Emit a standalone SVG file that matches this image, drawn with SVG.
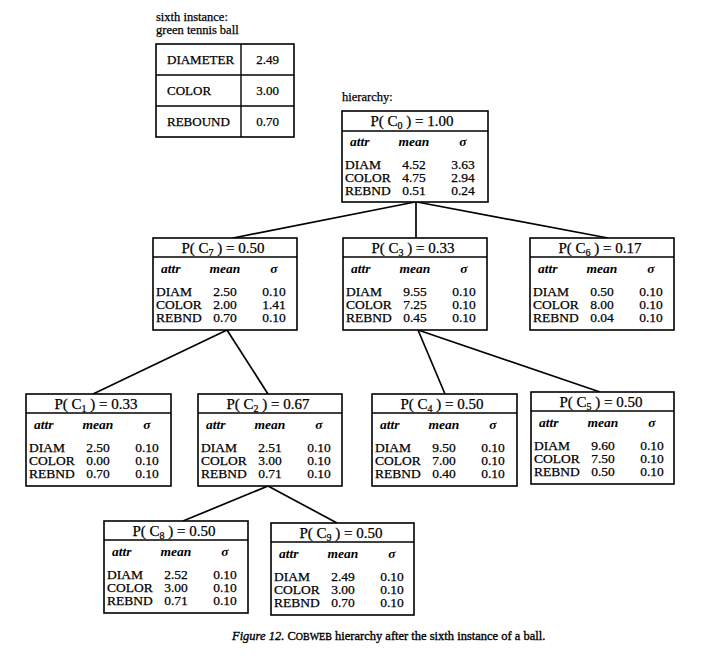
<svg xmlns="http://www.w3.org/2000/svg" width="702" height="656" viewBox="0 0 702 656">
<style>
  text { font-family: "Liberation Serif", "Times New Roman", serif; fill: #000; stroke: #000; stroke-width: 0.25; }
  .box { fill: #fff; stroke: #000; stroke-width: 1.6; }
  .sep { stroke: #000; stroke-width: 1.4; }
  .hd { font-size: 15px; text-anchor: middle; }
  .sub { font-size: 10px; }
  .ital { font-size: 13.5px; font-style: italic; font-weight: bold; stroke-width: 0; }
  .v { font-size: 13.5px; }
  .c { text-anchor: middle; }
  .lbl { font-size: 12.5px; }
  .tbl { font-size: 13px; }
  .conn line { stroke: #000; stroke-width: 1.7; }
  .cap { font-size: 12.5px; stroke-width: 0.35; }
</style>

<g id="instance">
  <text class="lbl" x="156" y="21">sixth instance:</text>
  <text class="lbl" x="156" y="34">green tennis ball</text>
  <rect class="box" x="156" y="44" width="138" height="93"/>
  <line class="sep" x1="156" y1="75" x2="294" y2="75"/>
  <line class="sep" x1="156" y1="106" x2="294" y2="106"/>
  <line class="sep" x1="241" y1="44" x2="241" y2="137"/>
  <text class="tbl" x="167" y="64">DIAMETER</text>
  <text class="tbl" x="167" y="95">COLOR</text>
  <text class="tbl" x="167" y="126">REBOUND</text>
  <text class="tbl c" x="267.5" y="64">2.49</text>
  <text class="tbl c" x="267.5" y="95">3.00</text>
  <text class="tbl c" x="267.5" y="126">0.70</text>
</g>

<text id="hierarchy-label" class="lbl" x="342" y="101">hierarchy:</text>

<g class="conn" id="connectors">
  <line x1="415" y1="202" x2="233" y2="238"/>
  <line x1="416" y1="202" x2="416" y2="238"/>
  <line x1="417" y1="202" x2="608" y2="238"/>
  <line x1="227" y1="330" x2="93" y2="394"/>
  <line x1="227" y1="330" x2="268" y2="394"/>
  <line x1="418" y1="330" x2="445" y2="394"/>
  <line x1="418" y1="330" x2="600" y2="392"/>
  <line x1="268" y1="486" x2="183" y2="521"/>
  <line x1="268" y1="486" x2="337" y2="523"/>
</g>

<g id="C0" transform="translate(342,111)">
  <rect class="box" x="0" y="0" width="146" height="91"/>
  <line class="sep" x1="0" y1="20" x2="146" y2="20"/>
  <text class="hd" x="70" y="15">P( C<tspan class="sub" dy="3">0</tspan><tspan dy="-3"> ) = 1.00</tspan></text>
  <text class="ital" x="8" y="35">attr</text><text class="ital c" x="72" y="35">mean</text><text class="ital c" x="121" y="35">σ</text>
  <text class="v" x="3" y="58">DIAM</text><text class="v c" x="72" y="58">4.52</text><text class="v c" x="121" y="58">3.63</text>
  <text class="v" x="3" y="71">COLOR</text><text class="v c" x="72" y="71">4.75</text><text class="v c" x="121" y="71">2.94</text>
  <text class="v" x="3" y="84">REBND</text><text class="v c" x="72" y="84">0.51</text><text class="v c" x="121" y="84">0.24</text>
</g>

<g id="C7" transform="translate(153,238)">
  <rect class="box" x="0" y="0" width="144" height="92"/>
  <line class="sep" x1="0" y1="19" x2="144" y2="19"/>
  <text class="hd" x="70" y="15">P( C<tspan class="sub" dy="3">7</tspan><tspan dy="-3"> ) = 0.50</tspan></text>
  <text class="ital" x="8" y="35">attr</text><text class="ital c" x="72" y="35">mean</text><text class="ital c" x="121" y="35">σ</text>
  <text class="v" x="3" y="58">DIAM</text><text class="v c" x="72" y="58">2.50</text><text class="v c" x="121" y="58">0.10</text>
  <text class="v" x="3" y="71">COLOR</text><text class="v c" x="72" y="71">2.00</text><text class="v c" x="121" y="71">1.41</text>
  <text class="v" x="3" y="84">REBND</text><text class="v c" x="72" y="84">0.70</text><text class="v c" x="121" y="84">0.10</text>
</g>

<g id="C3" transform="translate(343,238)">
  <rect class="box" x="0" y="0" width="144" height="92"/>
  <line class="sep" x1="0" y1="19" x2="144" y2="19"/>
  <text class="hd" x="70" y="15">P( C<tspan class="sub" dy="3">3</tspan><tspan dy="-3"> ) = 0.33</tspan></text>
  <text class="ital" x="8" y="35">attr</text><text class="ital c" x="72" y="35">mean</text><text class="ital c" x="121" y="35">σ</text>
  <text class="v" x="3" y="58">DIAM</text><text class="v c" x="72" y="58">9.55</text><text class="v c" x="121" y="58">0.10</text>
  <text class="v" x="3" y="71">COLOR</text><text class="v c" x="72" y="71">7.25</text><text class="v c" x="121" y="71">0.10</text>
  <text class="v" x="3" y="84">REBND</text><text class="v c" x="72" y="84">0.45</text><text class="v c" x="121" y="84">0.10</text>
</g>

<g id="C6" transform="translate(530,238)">
  <rect class="box" x="0" y="0" width="144" height="92"/>
  <line class="sep" x1="0" y1="19" x2="144" y2="19"/>
  <text class="hd" x="70" y="15">P( C<tspan class="sub" dy="3">6</tspan><tspan dy="-3"> ) = 0.17</tspan></text>
  <text class="ital" x="8" y="35">attr</text><text class="ital c" x="72" y="35">mean</text><text class="ital c" x="121" y="35">σ</text>
  <text class="v" x="3" y="58">DIAM</text><text class="v c" x="72" y="58">0.50</text><text class="v c" x="121" y="58">0.10</text>
  <text class="v" x="3" y="71">COLOR</text><text class="v c" x="72" y="71">8.00</text><text class="v c" x="121" y="71">0.10</text>
  <text class="v" x="3" y="84">REBND</text><text class="v c" x="72" y="84">0.04</text><text class="v c" x="121" y="84">0.10</text>
</g>

<g id="C1" transform="translate(26,394)">
  <rect class="box" x="0" y="0" width="145" height="92"/>
  <line class="sep" x1="0" y1="19" x2="145" y2="19"/>
  <text class="hd" x="70" y="15">P( C<tspan class="sub" dy="3">1</tspan><tspan dy="-3"> ) = 0.33</tspan></text>
  <text class="ital" x="8" y="35">attr</text><text class="ital c" x="72" y="35">mean</text><text class="ital c" x="121" y="35">σ</text>
  <text class="v" x="3" y="58">DIAM</text><text class="v c" x="72" y="58">2.50</text><text class="v c" x="121" y="58">0.10</text>
  <text class="v" x="3" y="71">COLOR</text><text class="v c" x="72" y="71">0.00</text><text class="v c" x="121" y="71">0.10</text>
  <text class="v" x="3" y="84">REBND</text><text class="v c" x="72" y="84">0.70</text><text class="v c" x="121" y="84">0.10</text>
</g>

<g id="C2" transform="translate(198,394)">
  <rect class="box" x="0" y="0" width="144" height="92"/>
  <line class="sep" x1="0" y1="19" x2="144" y2="19"/>
  <text class="hd" x="70" y="15">P( C<tspan class="sub" dy="3">2</tspan><tspan dy="-3"> ) = 0.67</tspan></text>
  <text class="ital" x="8" y="35">attr</text><text class="ital c" x="72" y="35">mean</text><text class="ital c" x="121" y="35">σ</text>
  <text class="v" x="3" y="58">DIAM</text><text class="v c" x="72" y="58">2.51</text><text class="v c" x="121" y="58">0.10</text>
  <text class="v" x="3" y="71">COLOR</text><text class="v c" x="72" y="71">3.00</text><text class="v c" x="121" y="71">0.10</text>
  <text class="v" x="3" y="84">REBND</text><text class="v c" x="72" y="84">0.71</text><text class="v c" x="121" y="84">0.10</text>
</g>

<g id="C4" transform="translate(372,394)">
  <rect class="box" x="0" y="0" width="145" height="92"/>
  <line class="sep" x1="0" y1="19" x2="145" y2="19"/>
  <text class="hd" x="70" y="15">P( C<tspan class="sub" dy="3">4</tspan><tspan dy="-3"> ) = 0.50</tspan></text>
  <text class="ital" x="8" y="35">attr</text><text class="ital c" x="72" y="35">mean</text><text class="ital c" x="121" y="35">σ</text>
  <text class="v" x="3" y="58">DIAM</text><text class="v c" x="72" y="58">9.50</text><text class="v c" x="121" y="58">0.10</text>
  <text class="v" x="3" y="71">COLOR</text><text class="v c" x="72" y="71">7.00</text><text class="v c" x="121" y="71">0.10</text>
  <text class="v" x="3" y="84">REBND</text><text class="v c" x="72" y="84">0.40</text><text class="v c" x="121" y="84">0.10</text>
</g>

<g id="C5" transform="translate(531,392)">
  <rect class="box" x="0" y="0" width="143" height="92"/>
  <line class="sep" x1="0" y1="19" x2="143" y2="19"/>
  <text class="hd" x="70" y="15">P( C<tspan class="sub" dy="3">5</tspan><tspan dy="-3"> ) = 0.50</tspan></text>
  <text class="ital" x="8" y="35">attr</text><text class="ital c" x="72" y="35">mean</text><text class="ital c" x="121" y="35">σ</text>
  <text class="v" x="3" y="58">DIAM</text><text class="v c" x="72" y="58">9.60</text><text class="v c" x="121" y="58">0.10</text>
  <text class="v" x="3" y="71">COLOR</text><text class="v c" x="72" y="71">7.50</text><text class="v c" x="121" y="71">0.10</text>
  <text class="v" x="3" y="84">REBND</text><text class="v c" x="72" y="84">0.50</text><text class="v c" x="121" y="84">0.10</text>
</g>

<g id="C8" transform="translate(104,521)">
  <rect class="box" x="0" y="0" width="144" height="92"/>
  <line class="sep" x1="0" y1="19" x2="144" y2="19"/>
  <text class="hd" x="70" y="15">P( C<tspan class="sub" dy="3">8</tspan><tspan dy="-3"> ) = 0.50</tspan></text>
  <text class="ital" x="8" y="35">attr</text><text class="ital c" x="72" y="35">mean</text><text class="ital c" x="121" y="35">σ</text>
  <text class="v" x="3" y="58">DIAM</text><text class="v c" x="72" y="58">2.52</text><text class="v c" x="121" y="58">0.10</text>
  <text class="v" x="3" y="71">COLOR</text><text class="v c" x="72" y="71">3.00</text><text class="v c" x="121" y="71">0.10</text>
  <text class="v" x="3" y="84">REBND</text><text class="v c" x="72" y="84">0.71</text><text class="v c" x="121" y="84">0.10</text>
</g>

<g id="C9" transform="translate(271,523)">
  <rect class="box" x="0" y="0" width="143" height="92"/>
  <line class="sep" x1="0" y1="19" x2="143" y2="19"/>
  <text class="hd" x="70" y="15">P( C<tspan class="sub" dy="3">9</tspan><tspan dy="-3"> ) = 0.50</tspan></text>
  <text class="ital" x="8" y="35">attr</text><text class="ital c" x="72" y="35">mean</text><text class="ital c" x="121" y="35">σ</text>
  <text class="v" x="3" y="58">DIAM</text><text class="v c" x="72" y="58">2.49</text><text class="v c" x="121" y="58">0.10</text>
  <text class="v" x="3" y="71">COLOR</text><text class="v c" x="72" y="71">3.00</text><text class="v c" x="121" y="71">0.10</text>
  <text class="v" x="3" y="84">REBND</text><text class="v c" x="72" y="84">0.70</text><text class="v c" x="121" y="84">0.10</text>
</g>

<text id="caption" class="cap" x="232" y="640"><tspan font-style="italic">Figure 12.</tspan> C<tspan font-size="10px">OBWEB</tspan> hierarchy after the sixth instance of a ball.</text>
</svg>
